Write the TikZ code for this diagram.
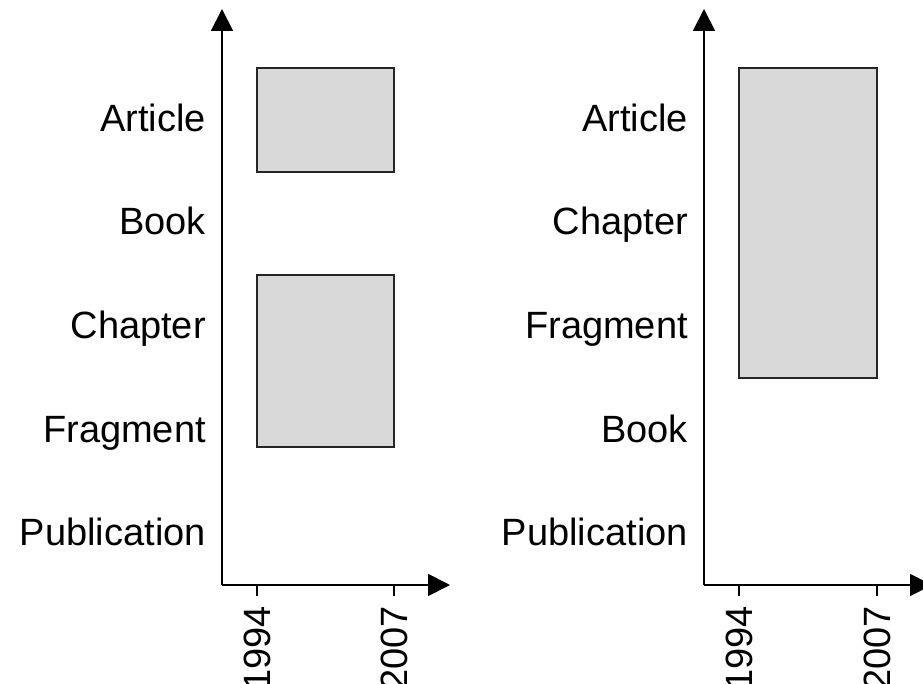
\documentclass[tikz,border=0pt]{standalone}
\usepackage{fontspec}
\setmainfont{Liberation Sans}
\usetikzlibrary{arrows.meta}
\begin{document}
\begin{tikzpicture}[x=1pt,y=-1pt,
  axis/.style={line width=1.8pt,-{Triangle[length=22pt,width=22pt]}},
  tickmark/.style={line width=1.5pt},
  span/.style={draw=black!85,line width=1.2pt,fill=black!15},
  rowlabel/.style={anchor=base east,inner sep=0pt,font=\fontsize{38}{40}\selectfont},
  yearlabel/.style={anchor=east,rotate=90,inner sep=0pt,font=\fontsize{38}{40}\selectfont}]
\useasboundingbox (0,0) rectangle (923,684);

% ---------- left chart ----------
\coordinate (Lo) at (222,585);
\coordinate (Ltop) at (222,9);
\coordinate (Lright) at (450,585);
\draw[axis] (Lo) -- (Ltop);
\draw[axis] (Lo) -- (Lright);

\node[rowlabel] (la) at (206,132) {Article};
\node[rowlabel] (lb) at (206,235) {Book};
\node[rowlabel] (lc) at (206,338) {Chapter};
\node[rowlabel] (lf) at (206,442) {Fragment};
\node[rowlabel] (lp) at (206,545) {Publication};

\draw[span] (257,68) rectangle (394,172);
\draw[span] (257,275) rectangle (394,447);

\coordinate (Lt1) at (257,585);
\coordinate (Lt2) at (394,585);
\draw[tickmark] (Lt1) -- ++(0,11);
\draw[tickmark] (Lt2) -- ++(0,11);
\node[yearlabel] (ly1) at (257,606) {1994};
\node[yearlabel] (ly2) at (394,606) {2007};

% ---------- right chart ----------
\coordinate (Ro) at (704,585);
\coordinate (Rtop) at (704,9);
\coordinate (Rright) at (932,585);
\draw[axis] (Ro) -- (Rtop);
\draw[axis] (Ro) -- (Rright);

\node[rowlabel] (ra) at (688,132) {Article};
\node[rowlabel] (rc) at (688,235) {Chapter};
\node[rowlabel] (rf) at (688,338) {Fragment};
\node[rowlabel] (rb) at (688,442) {Book};
\node[rowlabel] (rp) at (688,545) {Publication};

\draw[span] (739,68) rectangle (877,378);

\coordinate (Rt1) at (739,585);
\coordinate (Rt2) at (877,585);
\draw[tickmark] (Rt1) -- ++(0,11);
\draw[tickmark] (Rt2) -- ++(0,11);
\node[yearlabel] (ry1) at (739,606) {1994};
\node[yearlabel] (ry2) at (877,606) {2007};
\end{tikzpicture}
\end{document}
